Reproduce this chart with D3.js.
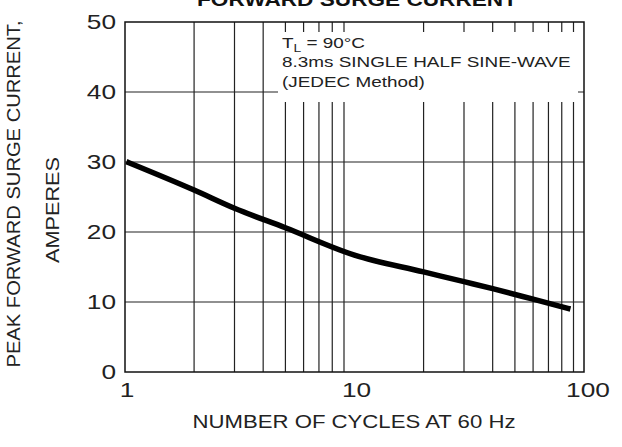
<!DOCTYPE html>
<html>
<head>
<meta charset="utf-8">
<script src="https://cdn.jsdelivr.net/npm/d3@7"></script>
<style>
  html, body { margin: 0; padding: 0; background: #fff; }
  svg { display: block; font-family: "Liberation Sans", Arial, sans-serif; }
</style>
</head>
<body>
<svg id="chart" width="622" height="447"></svg>
<script>
// ==== data ====
const cycles  = [1.04, 2, 3, 5, 10, 20, 30, 40, 60, 85];
const current = [29.9, 26.0, 23.4, 20.6, 16.7, 14.3, 12.9, 11.9, 10.4, 9.1];
const yTicks = [0, 10, 20, 30, 40, 50];
const xLabelTicks = [1, 10, 100];
const xGrid = [2, 3, 4, 5, 6, 7, 8, 9, 20, 30, 40, 50, 60, 70, 80, 90];
const noteLines = ["8.3ms SINGLE HALF SINE-WAVE", "(JEDEC Method)"];

// ==== layout ====
const svg = d3.select("#chart");
const m = { left: 125, right: 38, top: 22, bottom: 75 };
const W = 622, H = 447;
const stretch = 1.25; // reference font is wider than Liberation Sans

const x = d3.scaleLog().domain([1, 100]).range([m.left, W - m.right]);
const y = d3.scaleLinear().domain([0, 50]).range([H - m.bottom, m.top]);

const grid = svg.append("g").attr("stroke", "#222").attr("stroke-width", 1.2);

// vertical grid
grid.selectAll("line.v").data(xGrid).join("line")
  .attr("x1", d => x(d)).attr("x2", d => x(d))
  .attr("y1", y(0)).attr("y2", y(50));

// horizontal grid
grid.selectAll("line.h").data(yTicks.slice(1, -1)).join("line")
  .attr("x1", x(1)).attr("x2", x(100))
  .attr("y1", d => y(d)).attr("y2", d => y(d));

// note box (white background covers grid)
svg.append("rect")
  .attr("x", 278).attr("y", 32).attr("width", 300).attr("height", 70)
  .attr("fill", "#fff");

// frame
svg.append("rect")
  .attr("x", x(1)).attr("y", y(50))
  .attr("width", x(100) - x(1)).attr("height", y(0) - y(50))
  .attr("fill", "none").attr("stroke", "#111").attr("stroke-width", 1.5);

// curve
const line = d3.line().x((d, i) => x(cycles[i])).y(d => y(d)).curve(d3.curveMonotoneX);
svg.append("path")
  .datum(current)
  .attr("d", line)
  .attr("fill", "none")
  .attr("stroke", "#000")
  .attr("stroke-width", 5.5)
  .attr("stroke-linecap", "square");

// y tick labels
svg.append("g").selectAll("text").data(yTicks).join("text")
  .attr("transform", d => `translate(${m.left - 9},${y(d) + 7}) scale(${stretch},1)`)
  .attr("text-anchor", "end")
  .attr("font-size", 21).attr("fill", "#222")
  .text(d => d);

// x tick labels
svg.append("g").selectAll("text").data(xLabelTicks).join("text")
  .attr("transform", d => `translate(${x(d) + (d === 100 ? 4 : 2)},${y(0) + 25}) scale(${stretch},1)`)
  .attr("text-anchor", "middle")
  .attr("font-size", 21).attr("fill", "#222")
  .text(d => d);

// note text
const noteG = svg.append("g").attr("transform", `translate(282,0) scale(1.26,1)`);
const note = noteG.append("text").attr("x", 0).attr("y", 48).attr("font-size", 15).attr("fill", "#222");
note.append("tspan").text("T");
note.append("tspan").attr("font-size", 11).attr("dy", 4).text("L");
note.append("tspan").attr("dy", -4).text(" = 90°C");
noteG.selectAll("text.l").data(noteLines).join("text")
  .attr("class", "l")
  .attr("x", 0).attr("y", (d, i) => 67.5 + i * 19.5)
  .attr("font-size", 15).attr("fill", "#222")
  .text(d => d);

// title (clipped at top, as in the source)
svg.append("text")
  .attr("x", 357).attr("y", 6)
  .attr("text-anchor", "middle")
  .attr("font-size", 19).attr("font-weight", "bold").attr("fill", "#111")
  .attr("textLength", 320).attr("lengthAdjust", "spacingAndGlyphs")
  .text("FORWARD SURGE CURRENT");

// x axis title
svg.append("text")
  .attr("x", 354).attr("y", 428)
  .attr("text-anchor", "middle")
  .attr("font-size", 18).attr("fill", "#222")
  .attr("textLength", 323).attr("lengthAdjust", "spacingAndGlyphs")
  .text("NUMBER OF CYCLES AT 60 Hz");

// y axis title
const yt = svg.append("g").attr("transform", "translate(20,194) rotate(-90)");
yt.append("text")
  .attr("text-anchor", "middle")
  .attr("font-size", 18).attr("fill", "#222")
  .attr("textLength", 347).attr("lengthAdjust", "spacingAndGlyphs")
  .text("PEAK FORWARD SURGE CURRENT,");
yt.append("text")
  .attr("x", -16).attr("y", 39)
  .attr("text-anchor", "middle")
  .attr("font-size", 18).attr("fill", "#222")
  .attr("textLength", 106).attr("lengthAdjust", "spacingAndGlyphs")
  .text("AMPERES");
</script>
</body>
</html>
